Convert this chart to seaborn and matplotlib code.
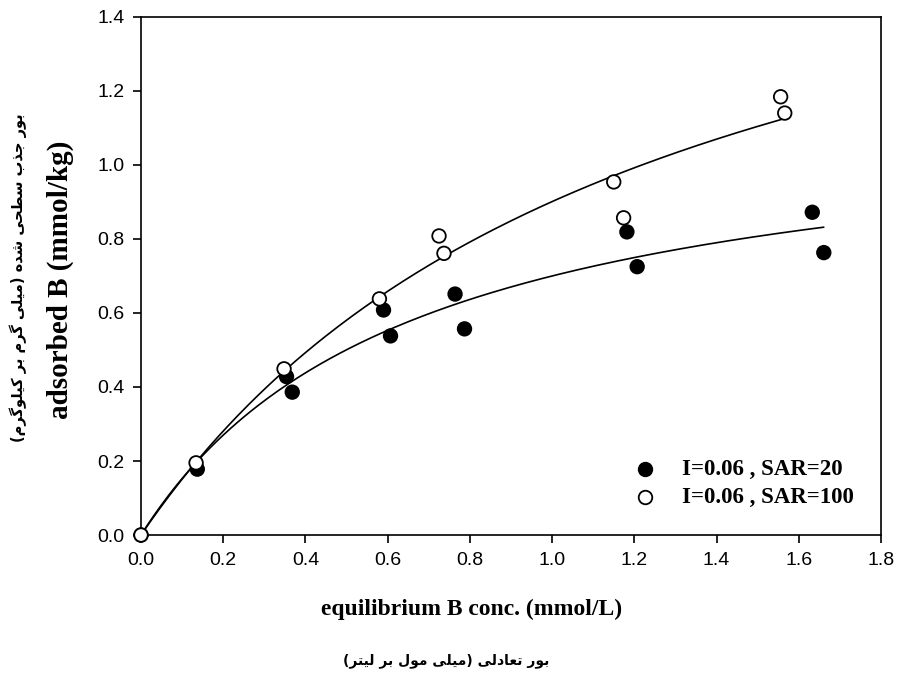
import numpy as np
import pandas as pd
import matplotlib
matplotlib.use("Agg")
import matplotlib.pyplot as plt
import seaborn as sns

# Boron adsorption data
x_sar20 = [0.0, 0.137, 0.354, 0.368, 0.590, 0.607, 0.764, 0.787, 1.182, 1.207, 1.633, 1.661]
y_sar20 = [0.0, 0.178, 0.428, 0.386, 0.608, 0.538, 0.651, 0.557, 0.819, 0.725, 0.872, 0.763]
x_sar100 = [0.0, 0.134, 0.348, 0.580, 0.725, 0.737, 1.150, 1.174, 1.556, 1.566]
y_sar100 = [0.0, 0.195, 0.449, 0.638, 0.808, 0.761, 0.954, 0.857, 1.184, 1.140]

labels = ["I=0.06 , SAR=20", "I=0.06 , SAR=100"]
xlabel_en = "equilibrium B conc. (mmol/L)"
ylabel_en = "adsorbed B (mmol/kg)"
xlabel_fa = "بور تعادلی (میلی مول بر لیتر)"
ylabel_fa = "بور جذب سطحی شده (میلی گرم بر کیلوگرم)"
xticks = [0.0, 0.2, 0.4, 0.6, 0.8, 1.0, 1.2, 1.4, 1.6, 1.8]
yticks = [0.0, 0.2, 0.4, 0.6, 0.8, 1.0, 1.2, 1.4]

# presentation forms: (isolated, final, initial, medial)
FORMS = {
    'ا': (0xFE8D, 0xFE8E, 0xFE8D, 0xFE8E),
    'ب': (0xFE8F, 0xFE90, 0xFE91, 0xFE92),
    'ت': (0xFE95, 0xFE96, 0xFE97, 0xFE98),
    'ج': (0xFE9D, 0xFE9E, 0xFE9F, 0xFEA0),
    'ح': (0xFEA1, 0xFEA2, 0xFEA3, 0xFEA4),
    'د': (0xFEA9, 0xFEAA, 0xFEA9, 0xFEAA),
    'ذ': (0xFEAB, 0xFEAC, 0xFEAB, 0xFEAC),
    'ر': (0xFEAD, 0xFEAE, 0xFEAD, 0xFEAE),
    'س': (0xFEB1, 0xFEB2, 0xFEB3, 0xFEB4),
    'ش': (0xFEB5, 0xFEB6, 0xFEB7, 0xFEB8),
    'ط': (0xFEC1, 0xFEC2, 0xFEC3, 0xFEC4),
    'ع': (0xFEC9, 0xFECA, 0xFECB, 0xFECC),
    'ک': (0xFB8E, 0xFB8F, 0xFB90, 0xFB91),
    'گ': (0xFB92, 0xFB93, 0xFB94, 0xFB95),
    'ل': (0xFEDD, 0xFEDE, 0xFEDF, 0xFEE0),
    'م': (0xFEE1, 0xFEE2, 0xFEE3, 0xFEE4),
    'ه': (0xFEE9, 0xFEEA, 0xFEEB, 0xFEEC),
    'و': (0xFEED, 0xFEEE, 0xFEED, 0xFEEE),
    'ی': (0xFBFC, 0xFBFD, 0xFBFE, 0xFBFF),
}
RIGHT_ONLY = set('اددذرزو')


def shape_rtl(text):
    """crude arabic-script shaping + reversal, matplotlib has no bidi"""
    out = []
    for i, c in enumerate(text):
        if c not in FORMS:
            out.append(c)
            continue
        prev = text[i - 1] if i > 0 else None
        nxt = text[i + 1] if i + 1 < len(text) else None
        link_prev = prev in FORMS and prev not in RIGHT_ONLY
        link_next = nxt in FORMS and c not in RIGHT_ONLY
        iso, fin, ini, med = FORMS[c]
        if link_prev and link_next:
            g = med
        elif link_prev:
            g = fin
        elif link_next:
            g = ini
        else:
            g = iso
        out.append(chr(g))
    mirror = {'(': ')', ')': '('}
    return ''.join(mirror.get(c, c) for c in reversed(out))


def langmuir_fit(x, y):
    # grid over K, closed-form least squares for Qmax
    x = np.asarray(x)
    y = np.asarray(y)
    best = None
    for k in np.linspace(0.05, 10, 4000):
        g = k * x / (1 + k * x)
        q = (g @ y) / (g @ g)
        err = np.sum((y - q * g) ** 2)
        if best is None or err < best[0]:
            best = (err, q, k)
    return best[1], best[2]


sns.set_style("ticks")
plt.rcParams['font.family'] = ['Liberation Sans', 'DejaVu Sans']
plt.rcParams.update({"text.color": "black", "axes.labelcolor": "black",
                     "xtick.color": "black", "ytick.color": "black"})

df = pd.concat([
    pd.DataFrame({"x": x_sar20, "y": y_sar20, "series": labels[0]}),
    pd.DataFrame({"x": x_sar100, "y": y_sar100, "series": labels[1]}),
])

fig = plt.figure(figsize=(8.98, 6.73), dpi=100)
ax = fig.add_axes([0.157, 0.205, 0.824, 0.770])

# fitted curves
curves = []
for xs, ys, lab in [(x_sar20, y_sar20, labels[0]), (x_sar100, y_sar100, labels[1])]:
    q, k = langmuir_fit(xs, ys)
    xx = np.linspace(0, max(xs), 200)
    curves.append(pd.DataFrame({"x": xx, "y": q * k * xx / (1 + k * xx), "series": lab}))
curve_df = pd.concat(curves)
sns.lineplot(data=curve_df, x="x", y="y", units="series", estimator=None,
             color="black", lw=1.2, ax=ax, legend=False)

sns.scatterplot(data=df, x="x", y="y", hue="series",
                palette={labels[0]: "black", labels[1]: "white"},
                edgecolor="black", linewidth=1.3, s=95, ax=ax, legend=False,
                zorder=5, clip_on=False)

ax.set_xlim(0, 1.8)
ax.set_ylim(0, 1.4)
ax.set_xticks(xticks)
ax.set_yticks(yticks)
ax.set_xticklabels([f"{t:.1f}" for t in xticks])
ax.set_yticklabels([f"{t:.1f}" for t in yticks])
ax.tick_params(direction="out", length=6, width=1.2, labelsize=14, pad=6,
               top=False, right=False)
for sp in ax.spines.values():
    sp.set_linewidth(1.2)
    sp.set_color("black")
    sp.set_visible(True)

ax.set_xlabel("")
ax.set_ylabel("")
serif = {"family": "Liberation Serif", "weight": "bold"}
fig.text(0.525, 0.094, xlabel_en, fontsize=17, ha="center", va="center", **serif)
fig.text(0.067, 0.584, ylabel_en, fontsize=21, ha="center", va="center",
         rotation=90, **serif)
fig.text(0.497, 0.018, shape_rtl(xlabel_fa), fontsize=10, ha="center",
         va="center", family=["DejaVu Sans"], weight="bold")
fig.text(0.02, 0.587, shape_rtl(ylabel_fa), fontsize=10.5, ha="center",
         va="center", rotation=90, family=["DejaVu Sans"], weight="bold")

# legend drawn by hand like the original
for i, (lab, fc) in enumerate(zip(labels, ["black", "white"])):
    yy = 0.303 - i * 0.0415
    ax.scatter([0.718], [yy], s=95, facecolor=fc, edgecolor="black",
               linewidth=1.3, transform=fig.transFigure, clip_on=False)
    fig.text(0.760, yy, lab, fontsize=16.5, va="center", ha="left", **serif)

fig.savefig("out.png", dpi=100)
